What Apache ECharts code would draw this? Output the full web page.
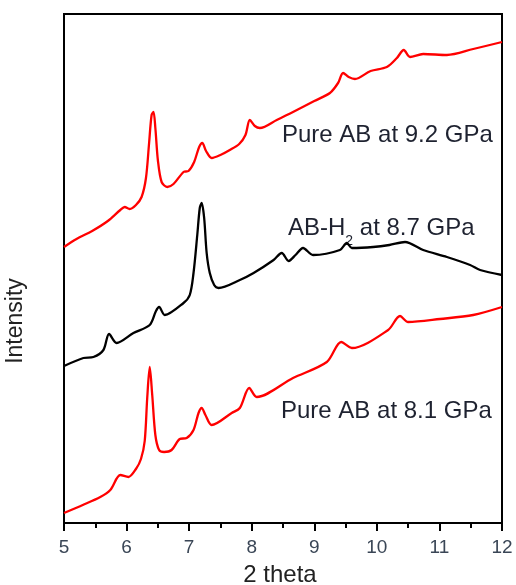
<!DOCTYPE html>
<html>
<head>
<meta charset="utf-8">
<script src="https://cdn.jsdelivr.net/npm/echarts@6/dist/echarts.min.js"></script>
<style>
  html, body { margin: 0; padding: 0; background: #fff; }
  #chart { width: 516px; height: 585px; }
</style>
</head>
<body>
<div id="chart"></div>
<script>
// X-ray diffraction patterns, 2θ in degrees vs. stacked intensity (arb. units)

// Pure AB at 9.2 GPa
const theta92 = [5.00, 5.20, 5.45, 5.70, 5.90, 5.97, 6.05, 6.15, 6.24, 6.31, 6.36, 6.40, 6.43, 6.46, 6.50, 6.56, 6.65, 6.75, 6.91, 6.99, 7.08, 7.16, 7.21, 7.27, 7.36, 7.50, 7.65, 7.80, 7.90, 7.97, 8.05, 8.13, 8.40, 8.66, 9.00, 9.25, 9.38, 9.46, 9.55, 9.65, 9.90, 10.16, 10.32, 10.43, 10.53, 10.74, 11.12, 11.54, 12.00];
const int92   = [276, 284, 292, 302, 313, 316, 314, 318, 326, 345, 380, 408, 411, 395, 363, 341, 336, 339, 351, 352, 361, 376, 380, 372, 365, 368, 373, 379, 388, 403, 397, 395, 403, 411, 422, 430, 440, 450, 446, 444, 452, 456, 465, 473, 466, 469, 468, 474, 481];

// AB-H2 at 8.7 GPa
const theta87 = [5.00, 5.31, 5.47, 5.63, 5.72, 5.84, 6.11, 6.37, 6.47, 6.52, 6.61, 6.91, 7.01, 7.07, 7.13, 7.17, 7.20, 7.24, 7.28, 7.33, 7.40, 7.47, 7.81, 8.03, 8.35, 8.48, 8.59, 8.70, 8.82, 8.98, 9.41, 9.52, 9.60, 9.94, 10.20, 10.45, 10.74, 11.12, 11.49, 11.65, 12.00];
const int87   = [157, 165, 166, 173, 189, 180, 190, 198, 212, 216, 208, 220, 228, 250, 288, 315, 320, 305, 270, 250, 238, 235, 243, 250, 263, 270, 262, 268, 275, 268, 273, 280, 275, 276, 278, 281, 273, 266, 258, 253, 248];

// Pure AB at 8.1 GPa
const theta81 = [5.00, 5.30, 5.58, 5.74, 5.90, 6.03, 6.15, 6.23, 6.29, 6.33, 6.37, 6.41, 6.46, 6.52, 6.60, 6.72, 6.85, 6.96, 7.07, 7.15, 7.20, 7.26, 7.36, 7.68, 7.81, 7.96, 8.08, 8.66, 9.20, 9.43, 9.60, 10.18, 10.37, 10.50, 11.01, 11.54, 12.00];
const int81   = [10, 18, 26, 33, 48, 46, 54, 64, 82, 125, 156, 128, 88, 73, 71, 73, 84, 85, 93, 110, 115, 108, 98, 110, 115, 135, 126, 145, 161, 181, 175, 193, 207, 201, 204, 208, 216];

const xTicks = [5, 6, 7, 8, 9, 10, 11, 12];

const pairs = (xs, ys) => xs.map((x, i) => [x, ys[i]]);
const FONT = 'Liberation Sans, Arial, sans-serif';
const TEXT = '#1e2230';

const chart = echarts.init(document.getElementById('chart'), null, { renderer: 'canvas' });

const lineSeries = (data, color) => ({
  type: 'line',
  data: data,
  smooth: 0.3,
  showSymbol: false,
  symbol: 'none',
  lineStyle: { color: color, width: 2.3, join: 'round' },
  animation: false,
  z: 3
});

chart.setOption({
  animation: false,
  backgroundColor: '#fff',
  grid: {
    left: 64, right: 14, top: 14, bottom: 62,
    outerBoundsMode: 'none',
    containLabel: false,
    show: true, borderColor: '#000', borderWidth: 2, backgroundColor: 'transparent'
  },
  xAxis: {
    type: 'value',
    min: xTicks[0], max: xTicks[xTicks.length - 1], interval: 1,
    axisLine: { show: true, lineStyle: { color: '#000', width: 2 } },
    axisTick: { show: true, inside: false, length: 8, lineStyle: { color: '#000', width: 2 } },
    minorTick: { show: true, splitNumber: 2, length: 5, lineStyle: { color: '#000', width: 2 } },
    axisLabel: { fontFamily: FONT, fontSize: 19, color: '#3a4656', margin: 15 },
    splitLine: { show: false }
  },
  yAxis: {
    type: 'value',
    min: 0, max: 509,
    axisLine: { show: true, lineStyle: { color: '#000', width: 2 } },
    axisTick: { show: false },
    axisLabel: { show: false },
    splitLine: { show: false }
  },
  graphic: [
    {
      type: 'text', x: 280, y: 575,
      style: { text: '2 theta', font: '24px ' + FONT, fill: '#222', align: 'center', verticalAlign: 'middle' }
    },
    {
      type: 'text', x: 16, y: 321, rotation: Math.PI / 2,
      style: { text: 'Intensity', font: '23px ' + FONT, fill: '#222', align: 'center', verticalAlign: 'middle' }
    },
    {
      type: 'text', left: 282, top: 123,
      style: { text: 'Pure AB at 9.2 GPa', font: '24px ' + FONT, fill: TEXT }
    },
    {
      type: 'text', left: 288, top: 216,
      style: {
        text: '{m|AB-H}{s|2}{m| at 8.7 GPa}',
        rich: {
          m: { fontFamily: FONT, fontSize: 24, fill: TEXT, color: TEXT },
          s: { fontFamily: FONT, fontSize: 14, fill: TEXT, color: TEXT, verticalAlign: 'bottom', padding: [26, 0, 0, 0] }
        }
      }
    },
    {
      type: 'text', left: 281, top: 399,
      style: { text: 'Pure AB at 8.1 GPa', font: '24px ' + FONT, fill: TEXT }
    }
  ],
  series: [
    lineSeries(pairs(theta92, int92), '#ff0000'),
    lineSeries(pairs(theta87, int87), '#000000'),
    lineSeries(pairs(theta81, int81), '#ff0000')
  ]
});
</script>
</body>
</html>
